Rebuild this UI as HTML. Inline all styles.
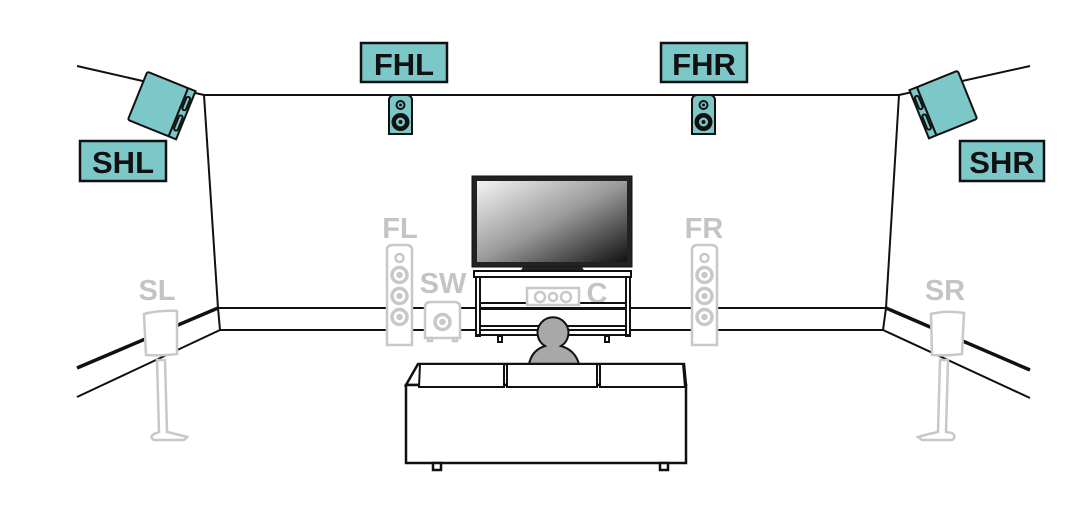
<!DOCTYPE html>
<html><head><meta charset="utf-8"><style>
html,body{margin:0;padding:0;background:#fff;width:1080px;height:509px;overflow:hidden}
svg{display:block}
text{font-family:"Liberation Sans",Arial,sans-serif;font-weight:bold}
</style></head><body>
<svg width="1080" height="509" viewBox="0 0 1080 509" xmlns="http://www.w3.org/2000/svg">
<defs>
<linearGradient id="tv" x1="0" y1="0" x2="1" y2="1">
<stop offset="0" stop-color="#f4f4f4"/><stop offset="0.5" stop-color="#9a9a9a"/><stop offset="1" stop-color="#111"/>
</linearGradient>
</defs>
<g stroke="#111" fill="none" stroke-width="2">
<line x1="77" y1="66" x2="204" y2="95"/>
<line x1="204" y1="95" x2="899" y2="95"/>
<line x1="1030" y1="66" x2="899" y2="95"/>
<line x1="204" y1="95" x2="218" y2="308"/>
<line x1="899" y1="95" x2="886" y2="308"/>
<line x1="218" y1="308" x2="886" y2="308"/>
<line x1="220" y1="330" x2="883" y2="330"/>
<line x1="218" y1="308" x2="220" y2="330"/>
<line x1="886" y1="308" x2="883" y2="330"/>
<line x1="218" y1="308" x2="77" y2="368" stroke-width="3.5"/>
<line x1="220" y1="330" x2="77" y2="397"/>
<line x1="886" y1="308" x2="1030" y2="370" stroke-width="3.5"/>
<line x1="883" y1="330" x2="1030" y2="398"/>
</g>

<g transform="translate(158,104) rotate(22)" stroke="#111" stroke-width="2" fill="#7cc8c8">
<rect x="-22" y="-26" width="44" height="52" rx="2"/>
<rect x="22" y="-26" width="8" height="52"/>
<rect x="24" y="-18" width="4" height="14" rx="2" fill="none"/>
<rect x="24" y="2" width="4" height="16" rx="2" fill="none"/>
</g>
<g transform="translate(947,103) rotate(-22)" stroke="#111" stroke-width="2" fill="#7cc8c8">
<rect x="-22" y="-26" width="44" height="52" rx="2"/>
<rect x="-30" y="-26" width="8" height="52"/>
<rect x="-28" y="-18" width="4" height="14" rx="2" fill="none"/>
<rect x="-28" y="2" width="4" height="16" rx="2" fill="none"/>
</g>

<g stroke="#111" stroke-width="2.5" fill="#7cc8c8">
<rect x="361" y="43" width="86" height="39"/>
<rect x="661" y="43" width="86" height="39"/>
<rect x="80" y="141" width="86" height="40"/>
<rect x="960" y="141" width="84" height="40"/>
</g>
<g font-size="31" fill="#111" text-anchor="middle">
<text x="404" y="75">FHL</text>
<text x="704" y="75">FHR</text>
<text x="123" y="173">SHL</text>
<text x="1002" y="173">SHR</text>
</g>

<g id="hs" stroke="#111" stroke-width="2">
<path d="M389 134 V100 a5 5 0 0 1 5 -5 h13 a5 5 0 0 1 5 5 V134 Z" fill="#7cc8c8"/>
<circle cx="400.5" cy="105" r="4" fill="#7cc8c8"/>
<circle cx="400.5" cy="105" r="1.5" fill="#111" stroke="none"/>
<circle cx="400.5" cy="122" r="8" fill="#111"/>
<circle cx="400.5" cy="122" r="4.5" fill="#7cc8c8" stroke="none"/>
<circle cx="400.5" cy="122" r="2" fill="#111" stroke="none"/>
</g>
<use href="#hs" transform="translate(303,0)"/>

<g font-size="29" fill="#c4c4c4" text-anchor="middle">
<text x="400" y="238">FL</text>
<text x="704" y="238">FR</text>
<text x="157" y="300">SL</text>
<text x="945" y="300">SR</text>
<text x="443" y="293">SW</text>
<text x="597" y="303">C</text>
</g>

<g id="tw" stroke="#c8c8c8" stroke-width="2.5" fill="#fff">
<path d="M387 345 V250 q0 -5 6 -5 h13 q6 0 6 5 V345 Z"/>
<circle cx="399.5" cy="258" r="4"/>
<circle cx="399.5" cy="275" r="7.5" stroke-width="3.5"/>
<circle cx="399.5" cy="296" r="7.5" stroke-width="3.5"/>
<circle cx="399.5" cy="317" r="7.5" stroke-width="3.5"/>
<circle cx="399.5" cy="275" r="2" fill="#c8c8c8"/>
<circle cx="399.5" cy="296" r="2" fill="#c8c8c8"/>
<circle cx="399.5" cy="317" r="2" fill="#c8c8c8"/>
</g>
<use href="#tw" transform="translate(305,0)"/>

<g stroke="#c8c8c8" stroke-width="2.5" fill="#fff">
<path d="M425 338 V307 q0 -5 6 -5 h23 q6 0 6 5 V338 Z"/>
<circle cx="442.5" cy="322" r="7.5" stroke-width="3.5"/>
<circle cx="442.5" cy="322" r="2" fill="#c8c8c8"/>
<rect x="428" y="338" width="4" height="3"/><rect x="453" y="338" width="4" height="3"/>
</g>

<g stroke="#c8c8c8" stroke-width="2.5" fill="#fff">
<path d="M157 360 L165 360 L167 432 Q176 434 187 437 L184 440 L154 440 Q149 437 154 434 L159 432 Z"/>
<path d="M144 314 q16 -4 33 -3 L177 354 Q160 356 146 355 Z"/>
</g>
<g stroke="#c8c8c8" stroke-width="2.5" fill="#fff">
<path d="M940 360 L948 360 L946 432 L952 433 Q957 437 952 440 L922 440 L918 437 Q928 434 938 432 Z"/>
<path d="M931 314 q16 -4 33 -1 L962 354 Q946 356 932 355 Z"/>
</g>

<rect x="472" y="176" width="160" height="91" fill="#222" stroke="#111" stroke-width="1"/>
<rect x="477" y="181" width="150" height="81" fill="url(#tv)"/>
<path d="M523 267 h59 l3 5 h-65 Z" fill="#222"/>
<g stroke="#111" stroke-width="2" fill="#fff">
<rect x="474" y="271" width="157" height="6"/>
<rect x="476" y="277" width="4" height="59"/>
<rect x="626" y="277" width="4" height="59"/>
<line x1="480" y1="303" x2="626" y2="303"/>
<line x1="480" y1="309" x2="626" y2="309"/>
<line x1="480" y1="326" x2="626" y2="326"/>
<line x1="476" y1="335" x2="630" y2="335"/>
<rect x="498" y="336" width="4" height="6"/>
<rect x="605" y="336" width="4" height="6"/>
</g>
<g stroke="#c8c8c8" stroke-width="2.5" fill="#fff">
<rect x="527" y="288" width="52" height="17"/>
<circle cx="540" cy="297" r="5"/><circle cx="553" cy="297" r="4"/><circle cx="566" cy="297" r="5"/>
</g>

<g stroke="#111" stroke-width="2" fill="#a8a8a8">
<path d="M529 364 Q532 350 545 346 A15.5 15.5 0 1 1 561 346 Q575 350 579 364 Z"/>
</g>

<g stroke="#111" stroke-width="2.5" fill="#fff">
<path d="M406 385 L418 364 L684 364 L686 385 Z"/>
<rect x="406" y="385" width="280" height="78"/>
<path d="M420 364 h84 v23 h-85 Z" stroke-width="2"/>
<path d="M507 364 h90 v23 h-90 Z" stroke-width="2"/>
<path d="M600 364 h83 l2 23 h-85 Z" stroke-width="2"/>
<rect x="433" y="463" width="8" height="7" fill="#fff"/>
<rect x="660" y="463" width="8" height="7" fill="#fff"/>
</g>
</svg>
</body></html>
